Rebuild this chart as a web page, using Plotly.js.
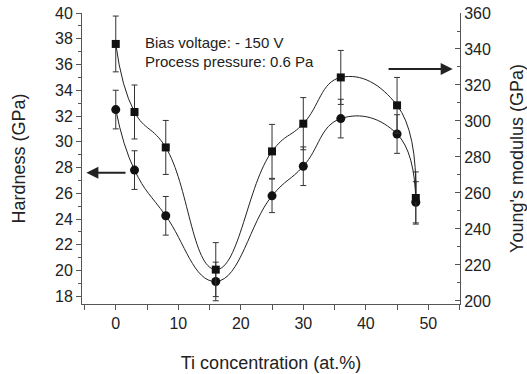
<!DOCTYPE html>
<html>
<head>
<meta charset="utf-8">
<script src="https://cdn.plot.ly/plotly-3.0.1.min.js"></script>
<style>html,body{margin:0;padding:0;background:#fff;}#chart{width:527px;height:374px;}</style>
</head>
<body>
<div id="chart"></div>
<script>
// Ti concentration (at.%)
const tiConc = [0, 3, 8, 16, 25, 30, 36, 45, 48];
// Hardness (GPa), left axis
const hardness = [32.5, 27.8, 24.25, 19.15, 25.8, 28.1, 31.8, 30.6, 25.3];
const hardnessErr = [1.5, 1.5, 1.5, 1.5, 1.3, 1.5, 1.5, 1.5, 1.6];
// Young's modulus (GPa), right axis
const modulus = [342.8, 305, 285.3, 217.4, 283.1, 298.5, 324.2, 308.7, 257.2];
const modulusErr = [15.5, 15, 15, 15, 15, 14.5, 15, 15.5, 14.5];

const annoLines = ["Bias voltage: - 150 V", "Process pressure: 0.6 Pa"];

const FONT = "Liberation Sans, Arial, sans-serif";
const INK = "#222";
const AX = "#555";

const traces = [
  {
    x: tiConc, y: hardness, yaxis: "y", type: "scatter", mode: "lines+markers",
    line: {shape: "spline", smoothing: 1.3, color: INK, width: 1},
    marker: {symbol: "circle", size: 9, color: "#111"},
    error_y: {type: "data", array: hardnessErr, visible: true, color: "#333", thickness: 1, width: 3},
    showlegend: false, cliponaxis: false
  },
  {
    x: tiConc, y: modulus, yaxis: "y2", type: "scatter", mode: "lines+markers",
    line: {shape: "spline", smoothing: 1.3, color: INK, width: 1},
    marker: {symbol: "square", size: 8, color: "#111"},
    error_y: {type: "data", array: modulusErr, visible: true, color: "#333", thickness: 1, width: 3},
    showlegend: false, cliponaxis: false
  }
];

const layout = {
  width: 527, height: 374,
  margin: {l: 82, r: 67, t: 13, b: 70},
  paper_bgcolor: "#fff", plot_bgcolor: "#fff",
  font: {family: FONT, size: 16, color: INK},
  xaxis: {
    range: [-5.4, 55.07], tickmode: "linear", tick0: 0, dtick: 10,
    ticks: "outside", ticklen: 5, tickcolor: AX, tickwidth: 1,
    minor: {dtick: 5, ticks: "outside", ticklen: 5, tickcolor: AX},
    showline: true, linecolor: AX, linewidth: 1, showgrid: false, zeroline: false,
    tickfont: {size: 16, color: INK},
    title: {text: "Ti concentration (at.%)", font: {size: 18, color: INK}, standoff: 25}
  },
  xaxis2: {
    overlaying: "x", side: "top", matches: "x", range: [-5.4, 55.07],
    tickmode: "linear", tick0: 0, dtick: 10,
    ticks: "inside", ticklen: 5, tickcolor: AX,
    minor: {dtick: 5, ticks: "inside", ticklen: 5, tickcolor: AX},
    showticklabels: false, showline: true, linecolor: AX, linewidth: 1,
    showgrid: false, zeroline: false
  },
  yaxis: {
    range: [17.4, 40], tickmode: "linear", tick0: 18, dtick: 2,
    ticks: "outside", ticklen: 5, tickcolor: AX,
    minor: {dtick: 1, ticks: "outside", ticklen: 3, tickcolor: AX},
    showline: true, linecolor: AX, linewidth: 1, showgrid: false, zeroline: false,
    tickfont: {size: 16, color: INK},
    title: {text: "Hardness (GPa)", font: {size: 18, color: INK}, standoff: 24}
  },
  yaxis2: {
    overlaying: "y", side: "right", range: [198.3, 360], tickmode: "linear", tick0: 200, dtick: 20,
    ticks: "inside", ticklen: 5, tickcolor: AX,
    minor: {dtick: 10, ticks: "inside", ticklen: 3, tickcolor: AX},
    showline: true, linecolor: AX, linewidth: 1, showgrid: false, zeroline: false,
    tickfont: {size: 16, color: INK},
    title: {text: "Young's modulus (GPa)", font: {size: 18, color: INK}, standoff: 20}
  },
  annotations: [
    {xref: "paper", yref: "paper", x: 0.161, y: 0.897, xanchor: "left", yanchor: "middle",
     text: annoLines[0], showarrow: false, font: {size: 15, color: INK}},
    {xref: "paper", yref: "paper", x: 0.161, y: 0.834, xanchor: "left", yanchor: "middle",
     text: annoLines[1], showarrow: false, font: {size: 15, color: INK}},
    {xref: "x", yref: "y", x: -4.7, y: 27.6, axref: "x", ayref: "y", ax: 1.8, ay: 27.6,
     text: "", showarrow: true, arrowhead: 2, arrowsize: 1.2, arrowwidth: 2, arrowcolor: INK},
    {xref: "x", yref: "y2", x: 53.9, y: 328.9, axref: "x", ayref: "y2", ax: 43.4, ay: 328.9,
     text: "", showarrow: true, arrowhead: 2, arrowsize: 1.2, arrowwidth: 2, arrowcolor: INK}
  ]
};

Plotly.newPlot("chart", traces, layout, {displayModeBar: false, staticPlot: true});
</script>
</body>
</html>
